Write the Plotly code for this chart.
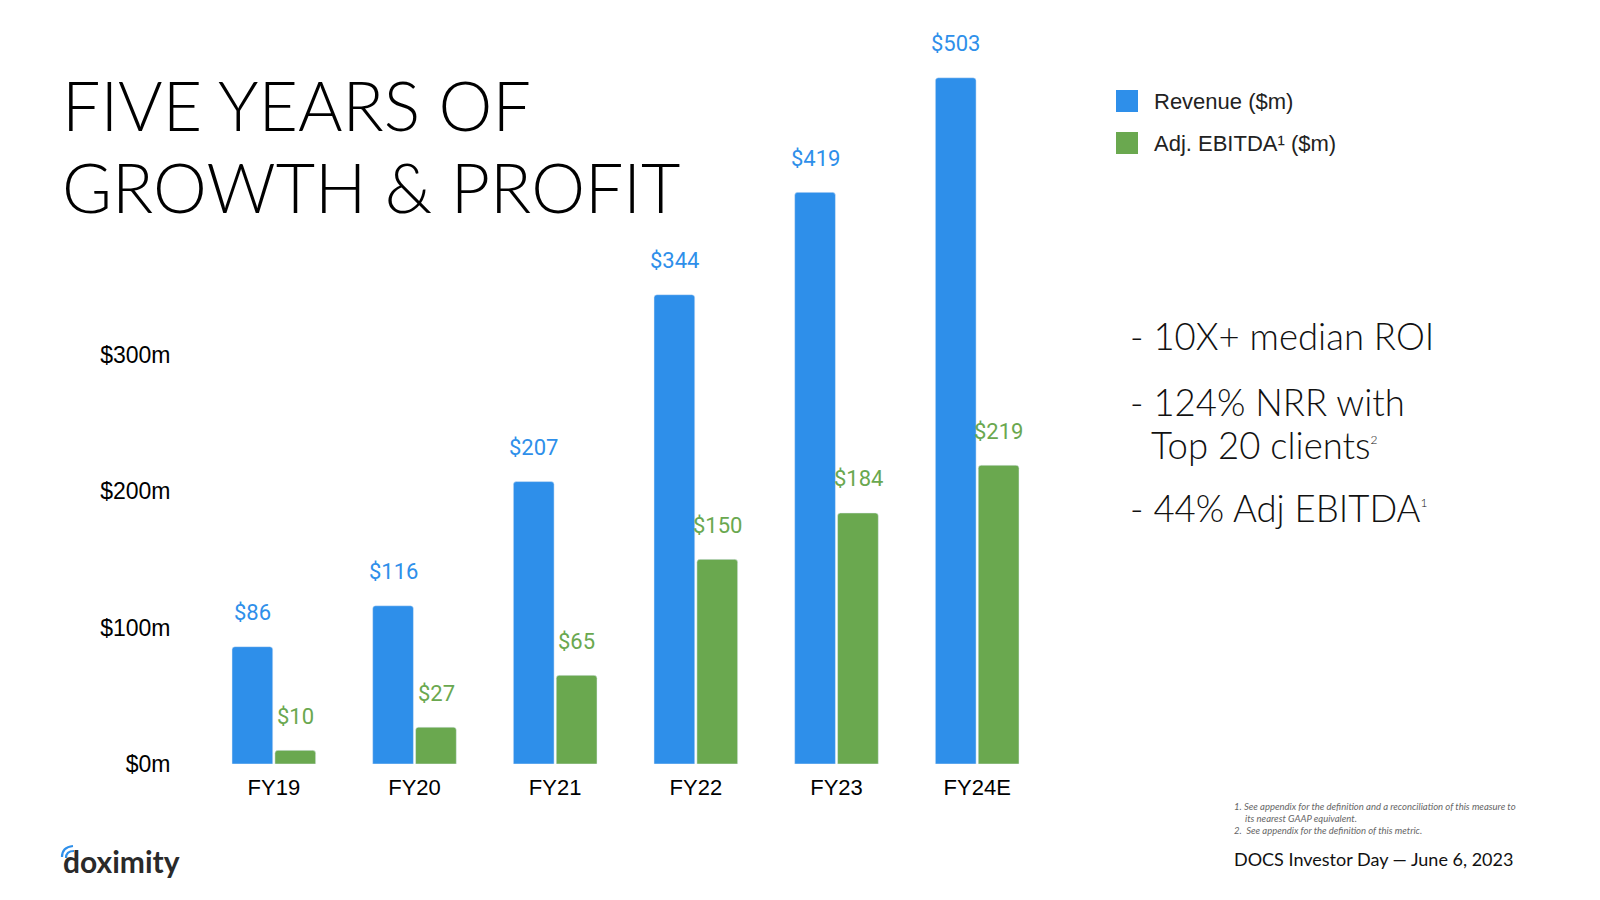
import plotly.graph_objects as go

categories = ["FY19", "FY20", "FY21", "FY22", "FY23", "FY24E"]
revenue = [86, 116, 207, 344, 419, 503]
ebitda = [10, 27, 65, 150, 184, 219]
rev_labels = ["$86", "$116", "$207", "$344", "$419", "$503"]
ebitda_labels = ["$10", "$27", "$65", "$150", "$184", "$219"]
y_tickvals = [0, 100, 200, 300]
y_ticktext = ["$0m", "$100m", "$200m", "$300m"]

BLUE = "#2E8FEA"
GREEN = "#6AA84F"
W, H = 1600, 900
PLOT_BOTTOM = 764  # pixel of plot area bottom


def px(x):
    return x / W


def py(y):
    return (PLOT_BOTTOM - y) / PLOT_BOTTOM


fig = go.Figure()
fig.add_trace(go.Bar(x=categories, y=revenue, name="Revenue ($m)", marker_color=BLUE,
                     showlegend=False, hoverinfo="x+y"))
fig.add_trace(go.Bar(x=categories, y=ebitda, name="Adj. EBITDA¹ ($m)", marker_color=GREEN,
                     showlegend=False, hoverinfo="x+y"))

annotations = []
# value labels above bars
for c, v, t in zip(categories, revenue, rev_labels):
    annotations.append(dict(x=c, y=v, xref="x", yref="y", text=t, showarrow=False,
                            xshift=-21.5, yshift=34, yanchor="middle",
                            font=dict(family="Roboto", size=22, color=BLUE)))
for c, v, t in zip(categories, ebitda, ebitda_labels):
    annotations.append(dict(x=c, y=v, xref="x", yref="y", text=t, showarrow=False,
                            xshift=21.5, yshift=34, yanchor="middle",
                            font=dict(family="Roboto", size=22, color=GREEN)))

TITLE_FONT = "Lato"
# title
annotations.append(dict(x=px(60), y=py(105), xref="paper", yref="paper", xanchor="left",
                        yanchor="middle", text="FIVE YEARS OF", showarrow=False,
                        font=dict(family=TITLE_FONT, size=68, color="#000", weight=300)))
annotations.append(dict(x=px(60), y=py(186), xref="paper", yref="paper", xanchor="left",
                        yanchor="middle", text="GROWTH &amp; PROFIT", showarrow=False,
                        font=dict(family=TITLE_FONT, size=68, color="#000", weight=300)))

# legend (custom)
legend_items = [("Revenue ($m)", BLUE, 101), ("Adj. EBITDA¹ ($m)", GREEN, 143)]
shapes = []
for txt, col, yc in legend_items:
    shapes.append(dict(type="rect", xref="paper", yref="paper",
                       x0=px(1116), x1=px(1138), y0=py(yc + 11), y1=py(yc - 11),
                       fillcolor=col, line=dict(width=0)))
    annotations.append(dict(x=px(1152), y=py(yc), xref="paper", yref="paper", xanchor="left",
                            yanchor="middle", text=txt, showarrow=False,
                            font=dict(family="Liberation Sans, Arial", size=22, color="#222")))

# bullets
BF = dict(family=TITLE_FONT, size=36.5, color="#111", weight=300)
bullets = [
    (1128, 336, "- 10X+ median ROI"),
    (1128, 402, "- 124% NRR with"),
    (1149, 445, "Top 20 clients<sup><span style='font-size:12px'>2</span></sup>"),
    (1128, 508, "- 44% Adj EBITDA<sup><span style='font-size:12px'>1</span></sup>"),
]
for xx, yy, t in bullets:
    annotations.append(dict(x=px(xx), y=py(yy), xref="paper", yref="paper", xanchor="left",
                            yanchor="middle", text=t, showarrow=False, font=BF))

# footnotes
FN = dict(family="Lato", size=9.5, color="#666")
footnotes = [
    (1232, 806, "<i>1. See appendix for the definition and a reconciliation of this measure to</i>"),
    (1243, 818, "<i>its nearest GAAP equivalent.</i>"),
    (1232, 830, "<i>2.  See appendix for the definition of this metric.</i>"),
]
for xx, yy, t in footnotes:
    annotations.append(dict(x=px(xx), y=py(yy), xref="paper", yref="paper", xanchor="left",
                            yanchor="middle", text=t, showarrow=False, font=FN))

annotations.append(dict(x=px(1232), y=py(859), xref="paper", yref="paper", xanchor="left",
                        yanchor="middle", text="DOCS Investor Day — June 6, 2023", showarrow=False,
                        font=dict(family="Lato", size=18, color="#111")))

# logo
annotations.append(dict(x=px(61), y=py(861), xref="paper", yref="paper", xanchor="left",
                        yanchor="middle", text="<b>doximity</b>", showarrow=False,
                        font=dict(family="Lato", size=30, color="#2a2a2a")))
for (x0, y0, cx, cy, x1, y1) in [(62, 857, 62, 847, 73, 846), (66, 858, 66, 851, 74, 851)]:
    shapes.append(dict(type="path", xref="paper", yref="paper",
                       path=f"M{px(x0)},{py(y0)} Q{px(cx)},{py(cy)} {px(x1)},{py(y1)}",
                       line=dict(color=BLUE, width=2.2)))

fig.update_layout(
    width=W, height=H,
    margin=dict(l=0, r=0, t=0, b=H - PLOT_BOTTOM, pad=0),
    paper_bgcolor="white", plot_bgcolor="white",
    barmode="group", bargap=0.39, bargroupgap=0.05, barcornerradius=3,
    showlegend=False,
    xaxis=dict(domain=[px(203.5), px(1047.5)], range=[-0.5, 5.5], showgrid=False,
               showline=False, zeroline=False, ticks="", ticklabelstandoff=8,
               tickfont=dict(family="Liberation Sans, Arial", size=22, color="#000")),
    yaxis=dict(range=[0, 560], tickvals=y_tickvals, ticktext=y_ticktext, showgrid=False,
               showline=False, zeroline=False, ticks="", ticklabelstandoff=32,
               tickfont=dict(family="Liberation Sans, Arial", size=23, color="#000")),
    annotations=annotations, shapes=shapes,
)

fig.write_html("out.html")
